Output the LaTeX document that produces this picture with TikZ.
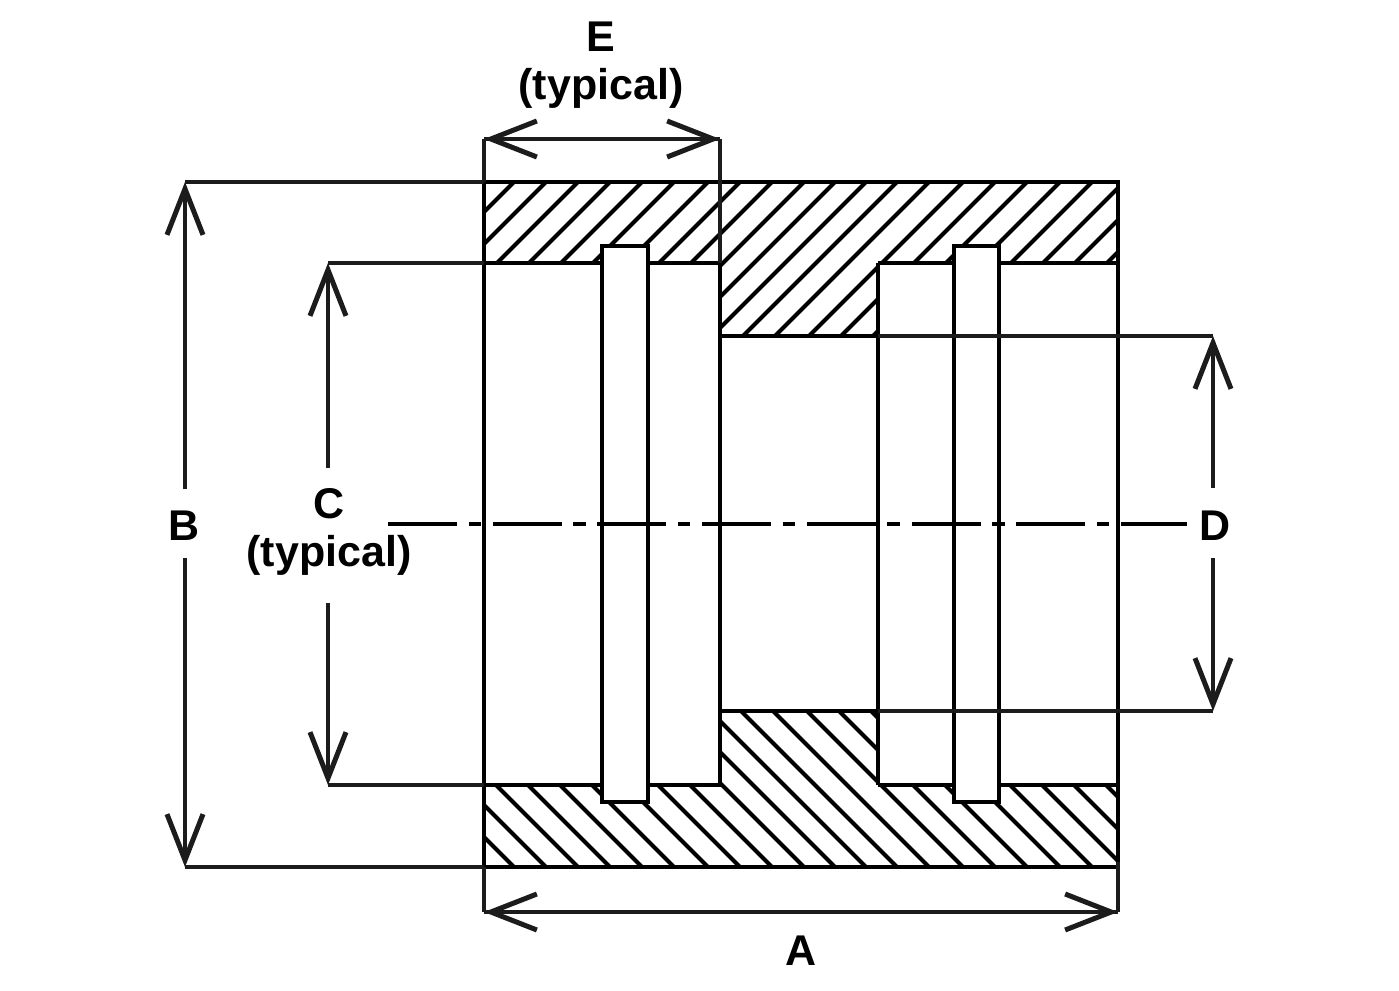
\documentclass[tikz,border=0pt]{standalone}
\usepackage{fontspec}
\setmainfont{Liberation Sans}
\usetikzlibrary{arrows.meta}
\definecolor{dimc}{HTML}{1C1C1C}
\tikzset{
  body/.style={line width=4.6pt,black},
  hatch/.style={line width=4pt,black},
  dimline/.style={line width=4.2pt,dimc},
  dimarrow/.style={dimline,-{Straight Barb[length=46pt,width=36pt,line width=5pt]}},
  centre/.style={line width=4.2pt,black,dash pattern=on 69pt off 11.5pt on 12.5pt off 11.7pt},
  lab/.style={font=\fontsize{43}{48}\selectfont\bfseries,align=center,inner sep=0pt,text=black},
  groove/.style={body,fill=white},
}
\begin{document}
\begin{tikzpicture}[x=1pt,y=-1pt]
\useasboundingbox (0,0) rectangle (1399,990);
\fill[white] (0,0) rectangle (1399,990);
% section hatching
\begin{scope}
\clip (484,182) -- (1117,182) -- (1117,263) -- (878,263) -- (878,336) -- (720,336) -- (720,263) -- (484,263) -- cycle;
\foreach \c in {696,728,760,792,824,856,890,922,954,986,1017,1048,1079,1111,1145,1177,1209,1242,1274,1306,1338,1370}
  \draw[hatch] (\c-100,100) -- (\c-500,500);
\end{scope}
\begin{scope}
\clip (484,867) -- (1117,867) -- (1117,785) -- (878,785) -- (878,711) -- (720,711) -- (720,785) -- (484,785) -- cycle;
\foreach \c in {696,728,760,792,824,856,890,922,954,986,1017,1048,1079,1111,1145,1177,1209,1242,1274,1306,1338,1370}
  \draw[hatch] (\c-100,949) -- (\c-500,549);
\end{scope}
% grooves
\draw[groove] (602,246) rectangle (648,802);
\draw[groove] (954,246) rectangle (999,802);
% centre line
\coordinate (cl1) at (388,524);
\coordinate (cl2) at (1187,524);
\draw[centre] (cl1) -- (cl2);
% bore and outer outline
\draw[body] (484,182) -- (1118,182) -- (1118,867) -- (484,867) -- cycle;
\draw[body] (484,263) -- (602,263) (648,263) -- (720,263) -- (720,785) -- (648,785) (602,785) -- (484,785);
\draw[body] (720,336) -- (878,336);
\draw[body] (720,711) -- (878,711);
\draw[body] (878,263) -- (954,263) (999,263) -- (1118,263);
\draw[body] (878,785) -- (954,785) (999,785) -- (1118,785);
\draw[body] (878,263) -- (878,785);
% extension lines
\coordinate (bT) at (185,182);
\coordinate (bB) at (185,867);
\coordinate (cT) at (328,263);
\coordinate (cB) at (328,785);
\coordinate (dT) at (1213,336);
\coordinate (dB) at (1213,711);
\coordinate (eL) at (484,139);
\coordinate (eR) at (720,139);
\coordinate (aL) at (484,912);
\coordinate (aR) at (1118,912);
\draw[dimline] (bT) -- (484,182) (bB) -- (484,867);
\draw[dimline] (cT) -- (484,263) (cB) -- (484,785);
\draw[dimline] (878,336) -- (dT) (878,711) -- (dB);
\draw[dimline] (eL) -- (484,182) (eR) -- (720,263);
\draw[dimline] (aL) -- (484,867) (aR) -- (1118,862);
% labels
\node[lab,anchor=base] (A) at (801,965) {A};
\node[lab,anchor=base] (B) at (184,540) {B};
\node[lab,anchor=base] (D) at (1215,540) {D};
\node[lab] (C) at (329,532) {C\\(typical)};
\node[lab] (E) at (601,65) {E\\(typical)};
% dimension arrows
\draw[dimarrow] (eR) -- (eL);
\draw[dimarrow] (eL) -- (eR);
\draw[dimarrow] (aR) -- (aL);
\draw[dimarrow] (aL) -- (aR);
\draw[dimarrow] (185,489) -- (bT);
\draw[dimarrow] (185,558) -- (bB);
\draw[dimarrow] (328,468) -- (cT);
\draw[dimarrow] (328,603) -- (cB);
\draw[dimarrow] (1213,488) -- (dT);
\draw[dimarrow] (1213,558) -- (dB);
\end{tikzpicture}
\end{document}
